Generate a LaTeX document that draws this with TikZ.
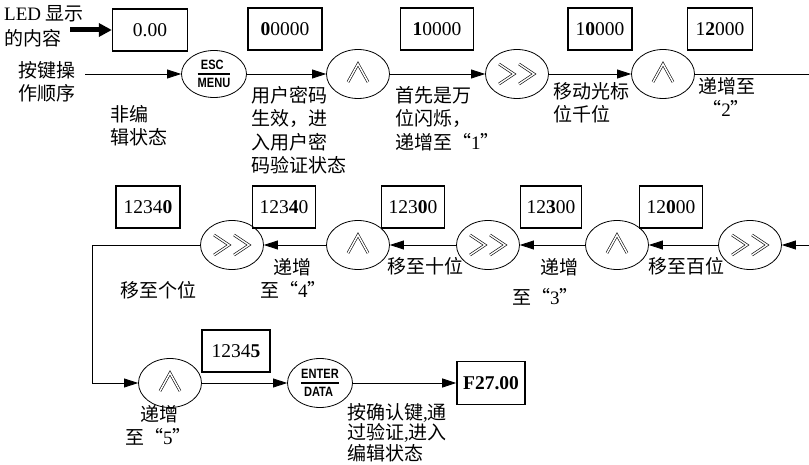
\documentclass[tikz,border=0pt]{standalone}
\usepackage{fontspec}
\usepackage{amsmath}
\usepackage{graphicx}
\setmainfont{Liberation Serif}
\newfontfamily\cjk{Noto Sans CJK SC}
\newfontfamily\keyfont{Liberation Sans}
\usetikzlibrary{arrows.meta,shapes.geometric}
\newcommand{\flowKeyText}[1]{\scalebox{0.82}[1]{\keyfont\bfseries\fontsize{13.5}{13.5}\selectfont #1}}
\newcommand{\flowKey}[2]{$\genfrac{}{}{1.2pt}{0}{\flowKeyText{#1}}{\flowKeyText{#2}}$}
\newcommand{\flowQuote}[1]{“{\rmfamily #1}”}
\tikzset{
  ledbox/.style={draw, line width=1.6pt, minimum height=42pt, inner sep=0pt, font=\fontsize{19.5}{19.5}\selectfont},
  keyell/.style={draw, ellipse, line width=0.8pt, minimum width=63pt, minimum height=49pt, inner sep=0pt},
  note/.style={align=left, anchor=north west, inner sep=0pt, font=\cjk\fontsize{19}{23.5}\selectfont},
  flow/.style={line width=0.8pt, -{Triangle[length=14pt,width=9pt]}},
  keysym/.style={double, double distance=1.5pt, line width=0.6pt, line join=miter}
}
\begin{document}
\begin{tikzpicture}[x=1pt,y=-1pt]
\useasboundingbox (0,0) rectangle (809,465);
\node[note, font=\fontsize{19}{25}\selectfont] (ledtxt) at (4,5) {LED {\cjk 显示}\\{\cjk 的内容}};
\node[note] (keytxt) at (18,61) {按键操\\作顺序};
\node[ledbox, minimum width=75pt, line width=1.3pt] (led0) at (150,30) {0.00};
\node[ledbox, minimum width=74pt] (led1) at (285,29) {\textbf{0}0000};
\node[ledbox, minimum width=73pt] (led2) at (437,29) {\textbf{1}0000};
\node[ledbox, minimum width=64pt] (led3) at (600,29) {1\textbf{0}000};
\node[ledbox, minimum width=65pt] (led4) at (720,29) {1\textbf{2}000};
\node[ledbox, minimum width=64pt] (led5) at (148,207) {1234\textbf{0}};
\node[ledbox, minimum width=63pt] (led6) at (284,207) {123\textbf{4}0};
\node[ledbox, minimum width=63pt] (led7) at (413,207) {123\textbf{0}0};
\node[ledbox, minimum width=61pt] (led8) at (551,207) {12\textbf{3}00};
\node[ledbox, minimum width=63pt] (led9) at (671,207) {12\textbf{0}00};
\node[ledbox, minimum width=68pt] (led10) at (236,351) {1234\textbf{5}};
\node[ledbox, minimum width=68pt, minimum height=43pt] (led11) at (491,383) {\textbf{F27.00}};
\node[keyell, minimum width=65pt, minimum height=47pt] (esc) at (214,74) {\flowKey{ESC}{MENU}};
\node[keyell] (u1) at (358,74) {};
\node[keyell] (s1) at (517,74) {};
\node[keyell] (u2) at (663,74) {};
\node[keyell] (s2) at (232,245) {};
\node[keyell] (u3) at (358,245) {};
\node[keyell] (s3) at (488,245) {};
\node[keyell] (u4) at (617,245) {};
\node[keyell] (s4) at (750,245) {};
\node[keyell] (u5) at (170,383) {};
\node[keyell, minimum width=65pt] (ent) at (320,383) {\flowKey{ENTER}{DATA}};
\node[note] (t0) at (110,105) {非编\\辑状态};
\node[note] (t1) at (251,86) {用户密码\\生效，进\\入用户密\\码验证状态};
\node[note] (t2) at (395,86) {首先是万\\位闪烁，\\递增至\flowQuote{1}};
\node[note] (t3) at (553,82) {移动光标\\位千位};
\node[note] (t4) at (698,77) {递增至\\\ \flowQuote{2}};
\node[note] (t5) at (120,281) {移至个位};
\node[note] (t6) at (273,258) {递增};
\node[note] (t7) at (260,281) {至\flowQuote{4}};
\node[note] (t8) at (387,257) {移至十位};
\node[note] (t9) at (540,258) {递增};
\node[note] (t10) at (512,288) {至\flowQuote{3}};
\node[note] (t11) at (648,257) {移至百位};
\node[note] (t12) at (140,405) {递增};
\node[note] (t13) at (125,428) {至\flowQuote{5}};
\node[note, font=\cjk\fontsize{19}{20.5}\selectfont] (t14) at (347,403) {按确认键{\rmfamily ,}通\\过验证{\rmfamily ,}进入\\编辑状态};
\coordinate (ledtail) at (70,30);
\coordinate (keystart) at (85,74);
\coordinate (edge1) at (809,74);
\coordinate (edge2) at (809,245);
\coordinate (turn) at (92,245);
\draw[line width=5pt, -{Triangle[length=13pt,width=13pt]}] (ledtail) -- (led0.west);
\draw[flow] (keystart) -- (esc);
\draw[flow] (esc) -- (u1);
\draw[flow] (u1) -- (s1);
\draw[flow] (s1) -- (u2);
\draw[line width=0.8pt] (u2) -- (edge1);
\draw[flow] (edge2) -- (s4);
\draw[flow] (s4) -- (u4);
\draw[flow] (u4) -- (s3);
\draw[flow] (s3) -- (u3);
\draw[flow] (u3) -- (s2);
\draw[flow] (s2.west) -- (turn) |- (u5.west);
\draw[flow] (u5) -- (ent);
\draw[flow] (ent) -- (led11);
\foreach \k in {u1,u2,u3,u4,u5}
  \draw[keysym] ([shift={(-10,8)}]\k.center) -- ([shift={(0,-10)}]\k.center) -- ([shift={(10,8)}]\k.center);
\foreach \k in {s1,s2,s3,s4} {
  \draw[keysym] ([shift={(-18,-10)}]\k.center) -- ([shift={(-3,0)}]\k.center) -- ([shift={(-18,10)}]\k.center);
  \draw[keysym] ([shift={(2,-10)}]\k.center) -- ([shift={(17,0)}]\k.center) -- ([shift={(2,10)}]\k.center);
}
\end{tikzpicture}
\end{document}
